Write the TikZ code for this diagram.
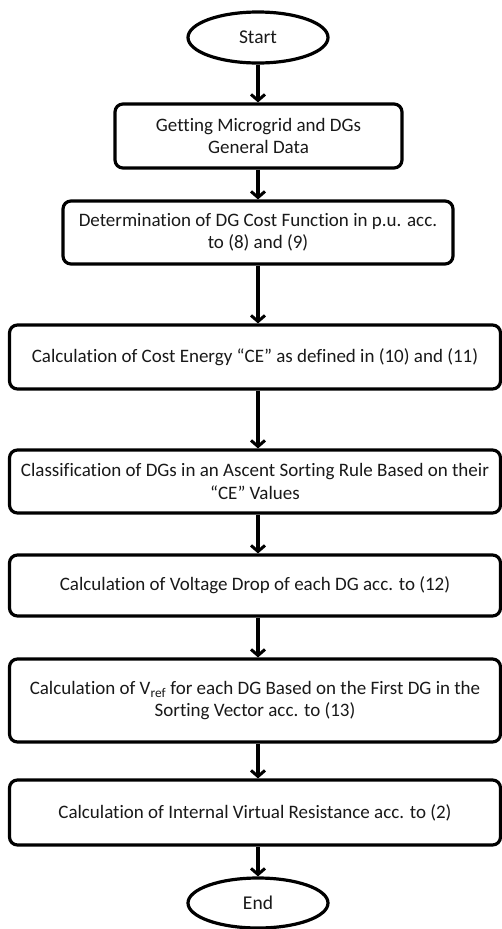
\documentclass[tikz,border=0pt]{standalone}
\usepackage{fontspec}
\setmainfont{Carlito}[Ligatures={NoCommon}]
\usetikzlibrary{arrows.meta,shapes.geometric}
\begin{document}
\begin{tikzpicture}[x=1pt,y=-1pt,
  box/.style={draw=black,line width=3.2pt,rounded corners=8pt,align=center,inner sep=0pt,
    font=\fontsize{19}{22.5}\selectfont,text=black!90},
  term/.style={draw=black,line width=3.2pt,ellipse,inner sep=0pt,
    font=\fontsize{19.5}{22.5}\selectfont,text=black!90},
  arr/.style={line width=3.2pt,-{Straight Barb[length=6pt,width=14pt,line width=3pt]}}]
\useasboundingbox (0,0) rectangle (502,929);
\fill[white] (0,0) rectangle (502,929);
\node[term,minimum width=140,minimum height=51] (s) at (258,37.5) {Start};
\node[box,minimum width=287,minimum height=64] (b1) at (258.5,136) {Getting Microgrid and DGs\\General Data};
\node[box,minimum width=390,minimum height=63] (b2) at (258,232.5) {Determination of DG Cost Function in p.u. acc.\\to (8) and (9)};
\node[box,minimum width=491,minimum height=64] (b3) at (255,357) {Calculation of Cost Energy “CE” as defined in (10) and (11)};
\node[box,minimum width=491,minimum height=63] (b4) at (255,481.5) {Classification of DGs in an Ascent Sorting Rule Based on their\\“CE” Values};
\node[box,minimum width=491,minimum height=61] (b5) at (255,585.5) {Calculation of Voltage Drop of each DG acc. to (12)};
\node[box,minimum width=491,minimum height=83] (b6) at (255,700.5) {Calculation of V\textsubscript{ref} for each DG Based on the First DG in the\\Sorting Vector acc. to (13)};
\node[box,minimum width=491,minimum height=65] (b7) at (255,812.5) {Calculation of Internal Virtual Resistance acc. to (2)};
\node[term,minimum width=140,minimum height=50] (e) at (258,903) {End};
\draw[arr] (s.south) -- (b1.north -| s.south);
\draw[arr] (b1.south -| s.south) -- (b2.north -| s.south);
\draw[arr] (b2.south -| s.south) -- (b3.north -| s.south);
\draw[arr] (b3.south -| s.south) -- (b4.north -| s.south);
\draw[arr] (b4.south -| s.south) -- (b5.north -| s.south);
\draw[arr] (b5.south -| s.south) -- (b6.north -| s.south);
\draw[arr] (b6.south -| s.south) -- (b7.north -| s.south);
\draw[arr] (b7.south -| s.south) -- (e.north);
\end{tikzpicture}
\end{document}
